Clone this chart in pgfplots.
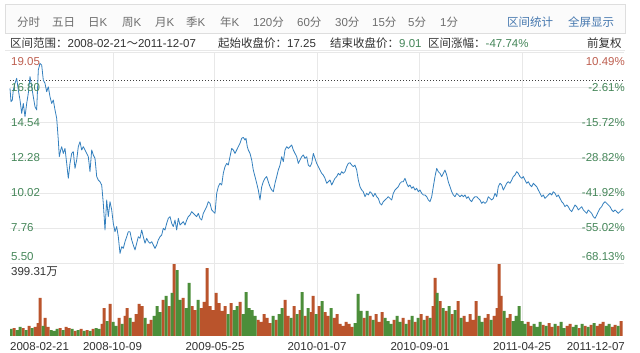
\documentclass[border=0pt]{standalone}
\usepackage{fontspec}
\setmainfont{Liberation Sans}
\newfontfamily\cjk{Noto Sans CJK SC}
\usepackage{pgfplots}
\pgfplotsset{compat=1.18}
\definecolor{pline}{RGB}{52,128,190}
\definecolor{upred}{RGB}{186,84,44}
\definecolor{dngreen}{RGB}{76,142,58}
\definecolor{lblred}{RGB}{190,95,80}
\definecolor{lblgreen}{RGB}{70,135,90}
\definecolor{gridc}{RGB}{232,232,232}
\definecolor{tabtxt}{RGB}{110,110,110}
\definecolor{linkblue}{RGB}{70,120,175}
\definecolor{txt}{RGB}{50,50,50}
\newcommand{\C}[1]{{\cjk #1}}
\newcommand{\fs}{\fontsize{11.5}{13}\selectfont}
\begin{document}
\begin{tikzpicture}[x=1pt,y=1pt]
\path[fill=white] (0,0) rectangle (640,353);
% toolbar
\draw[draw={rgb,255:red,222;green,222;blue,222}, fill={rgb,255:red,251;green,251;blue,251}] (5,320) rectangle (625,349);
\begin{scope}[every node/.style={anchor=base west, inner sep=0pt, text=tabtxt, font=\fs}]
\node at (17,326.5) {\C{分时}};
\node at (52,326.5) {\C{五日}};
\node at (88,326.5) {\C{日}K};
\node at (122,326.5) {\C{周}K};
\node at (155,326.5) {\C{月}K};
\node at (186,326.5) {\C{季}K};
\node at (220,326.5) {\C{年}K};
\node at (253,326.5) {120\C{分}};
\node at (297,326.5) {60\C{分}};
\node at (335,326.5) {30\C{分}};
\node at (372,326.5) {15\C{分}};
\node at (408,326.5) {5\C{分}};
\node at (440,326.5) {1\C{分}};
\node[text=linkblue] at (507,326.5) {\C{区间统计}};
\node[text=linkblue] at (568,326.5) {\C{全屏显示}};
\end{scope}
\begin{scope}[every node/.style={anchor=base west, inner sep=0pt, text=txt, font=\fs}]
\node at (10,305.5) {\C{区间范围：}2008-02-21\C{～}2011-12-07};
\node at (218,305.5) {\C{起始收盘价：}17.25};
\node at (330,305.5) {\C{结束收盘价：}\textcolor{lblgreen}{9.01}};
\node at (428,305.5) {\C{区间涨幅：}\textcolor{lblgreen}{-47.74\%}};
\node at (587,305.5) {\C{前复权}};
\end{scope}
\draw[gridc, line width=0.6pt] (5,303) -- (625,303);
% price panel
\begin{axis}[at={(10pt,89.5pt)}, anchor=south west, scale only axis,
  width=614pt, height=211pt, xmin=10, xmax=624, ymin=5.50, ymax=19.05,
  axis line style={draw=none}, major tick length=0pt,
  xtick={113,214,317,419,522}, ytick={5.50,7.76,10.02,12.28,14.54,16.80,19.05},
  xticklabels={}, yticklabels={}, grid=major,
  major grid style={gridc, line width=0.6pt}, clip=false]
\addplot[black!75, line width=0.8pt, dash pattern=on 0.9pt off 2.1pt] coordinates {(10,17.25) (624,17.25)};
\addplot[pline, line width=0.8pt, line join=round] coordinates {
(10,16.75) (11,15.89) (12.3,15.99) (13.3,16.64) (15,17.07) (16.7,17.39) (18.3,16.64) (20,16.00)
(21.7,15.14) (23.3,15.78) (25,14.93) (26.7,15.78) (28.3,16.43) (30,17.50) (31.7,16.85) (33.3,16.21)
(35,15.57) (36.7,15.36) (38.3,17.92) (40,18.35) (41.7,18.24) (43.3,17.28) (45,17.07) (46.7,16.53)
(48.3,16.85) (50,16.21) (51.7,15.78) (53.3,16.00) (55,15.36) (56.7,14.82) (58.3,13.43) (59.3,12.36)
(60.7,12.79) (61.7,13.00) (63.3,12.57) (65,12.89) (66.7,11.93) (68.3,10.97) (70,11.93) (71.7,12.57)
(73.3,12.68) (75,11.61) (76.7,12.15) (78.3,13.00) (80,13.32) (81.7,12.79) (83.3,13.00) (85,12.79)
(86.7,12.57) (88.3,12.36) (90,11.40) (91.7,12.79) (93.3,12.47) (95,12.25) (96.7,11.08) (98.3,10.86)
(100,10.75) (101.7,10.54) (103.3,9.36) (105,7.65) (106.7,9.58) (108.3,8.51) (110,9.47) (111.7,8.94)
(113.3,8.08) (115,7.54) (116.7,7.87) (118.3,7.22) (120,6.15) (121.7,6.58) (123.3,6.47) (125,6.90)
(126.7,7.22) (128.3,7.54) (130,7.54) (131.7,7.01) (133.3,6.69) (135,6.37) (136.7,6.80) (138.3,7.22)
(140,7.12) (141.7,7.65) (143.3,7.22) (145,6.80) (146.7,7.12) (148.3,6.90) (150,6.80) (151.7,6.90)
(153.3,6.69) (155,6.47) (156.7,6.69) (158.3,7.01) (160,7.22) (161.7,7.33) (163.3,7.76) (165,7.65)
(166.7,8.08) (168.3,8.40) (170,8.51) (171.7,8.08) (173.3,7.87) (175,8.29) (176.7,7.65) (178.3,8.40)
(180,7.97) (181.7,8.08) (183.3,8.19) (185,7.97) (186.7,8.29) (188.3,8.51) (190,8.61) (191.7,8.83)
(193.3,8.72) (195,8.61) (196.7,8.51) (198.3,8.72) (200,8.40) (201.7,8.29) (203.3,8.72) (205,8.94)
(206.7,9.15) (208.3,9.47) (210,9.36) (211.7,8.94) (213.3,8.83) (215,8.72) (216.7,10.01) (218.3,10.43)
(220,10.65) (221.7,10.54) (223.3,11.29) (225,11.72) (226.7,11.93) (228.3,11.82) (230,12.36) (231.7,12.89)
(233.3,12.79) (235,12.57) (236.7,12.79) (238.3,13.00) (240,13.22) (241.7,13.54) (243.3,13.60) (245,13.43)
(246,13.54) (247.3,13.00) (248.3,12.79) (250,12.57) (251.7,12.15) (253.3,11.50) (255,11.08) (256.7,10.65)
(258.3,10.22) (260,9.58) (261.7,10.43) (263.3,10.75) (265,10.97) (266.7,11.08) (268.3,10.75) (270,10.43)
(271.7,10.22) (273.3,10.11) (275,10.65) (276.7,11.08) (278.3,11.50) (280,11.82) (281.7,12.36) (283.3,12.04)
(285,12.79) (286.7,13.00) (288.3,12.89) (290,13.00) (291.7,13.11) (293.3,12.79) (295,12.57) (296.7,12.36)
(298.3,11.93) (300,12.15) (301.7,12.36) (303.3,12.47) (305,12.25) (306.7,12.36) (308.3,11.82) (310,11.72)
(311.7,11.93) (313.3,12.57) (315,12.25) (316.7,11.93) (318.3,11.72) (320,11.50) (321.7,11.29) (323.3,11.18)
(325,10.97) (326.7,10.65) (328.3,10.75) (330,10.86) (331.7,10.54) (333.3,10.75) (335,10.97) (336.7,11.08)
(338.3,11.29) (340,11.18) (341.7,11.40) (343.3,11.29) (345,11.40) (346.7,11.72) (348.3,11.93) (350,11.97)
(351.7,11.82) (353.3,11.72) (355,11.82) (356.7,11.50) (358.3,10.86) (360,10.43) (361.7,10.22) (363.3,10.11)
(365,9.79) (366.7,10.01) (368.3,9.90) (370,10.11) (371.7,10.01) (373.3,9.79) (375,10.01) (376.7,9.79)
(378.3,9.68) (380,9.36) (381.7,9.26) (383.3,9.47) (385,9.58) (386.7,9.68) (388.3,9.79) (390,9.68)
(391.7,9.58) (393.3,10.01) (395,10.22) (396.7,10.33) (398.3,10.43) (400,10.65) (401.7,10.75) (403.3,10.75)
(405,10.97) (406.7,10.65) (408.3,10.43) (410,10.54) (411.7,10.33) (413.3,10.43) (415,10.22) (416.7,10.33)
(418.3,10.11) (420,10.22) (421.7,10.01) (423.3,9.90) (425,9.90) (426.7,9.79) (428.3,9.58) (430,9.47)
(431.7,9.79) (433.3,10.43) (435,11.08) (436.7,11.61) (438.3,11.40) (440,11.29) (441.7,11.08) (443.3,11.29)
(445,11.50) (446.7,11.18) (448.3,10.75) (450,10.43) (451.7,10.11) (453.3,9.90) (455,9.79) (456.7,10.01)
(458.3,9.90) (460,9.79) (461.7,9.90) (463.3,9.79) (465,9.90) (466.7,9.68) (468.3,9.79) (470,9.58)
(471.7,9.47) (473.3,9.68) (475,9.79) (476.7,9.79) (478.3,9.68) (480,9.58) (481.7,9.36) (483.3,9.47)
(485,9.36) (486.7,9.47) (488.3,9.79) (490,9.68) (491.7,9.58) (493.3,9.68) (495,10.01) (496.7,9.79)
(498.3,10.43) (500,10.65) (501.7,10.54) (503.3,10.22) (505,10.43) (506.7,10.65) (508.3,10.75) (510,10.65)
(511.7,10.86) (513.3,11.08) (515,11.18) (516.7,11.40) (518.3,11.29) (520,11.08) (521.7,10.97) (523.3,11.08)
(525,10.86) (526.7,10.65) (528.3,10.75) (530,10.54) (531.7,10.43) (533.3,10.65) (535,10.54) (536.7,10.43)
(538.3,10.22) (540,10.01) (541.7,9.79) (543.3,9.90) (545,9.68) (546.7,9.79) (548.3,9.90) (550,10.01)
(551.7,9.90) (553.3,10.11) (555,10.01) (556.7,9.79) (558.3,9.90) (560,9.68) (561.7,9.47) (563.3,9.36)
(565,9.15) (566.7,9.26) (568.3,9.15) (570,8.94) (571.7,8.83) (573.3,9.04) (575,9.26) (576.7,9.15)
(578.3,8.94) (580,9.04) (581.7,9.15) (583.3,8.94) (585,8.83) (586.7,8.72) (588.3,8.94) (590,8.83)
(591.7,8.72) (593.3,8.51) (595,8.40) (596.7,8.61) (598.3,8.83) (600,9.04) (601.7,9.15) (603.3,9.36)
(605,9.47) (606.7,9.36) (608.3,9.26) (610,9.15) (611.7,8.94) (613.3,8.83) (615,8.94) (616.7,8.83)
(618.3,8.72) (620,8.83) (621.7,8.94) (623.3,9.01)
};
\end{axis}
% volume panel
\begin{axis}[at={(10pt,17pt)}, anchor=south west, scale only axis,
  width=614pt, height=72pt, xmin=10, xmax=624, ymin=0, ymax=399.31,
  axis line style={draw=none}, major tick length=0pt,
  xtick={113,214,317,419,522}, ytick=\empty, xticklabels={}, xmajorgrids,
  major grid style={gridc, line width=0.6pt}]
\addplot[ybar, bar width=3.0, bar shift=0pt, fill=upred, draw=none] coordinates {
(14,44) (23,44) (29,56) (35,50) (38,72) (40,211) (45,100) (48,50) (60,44) (66,50) (69,44) (75,28)
(81,39) (87,33) (93,39) (102,67) (104,155) (110,178) (119,100) (125,111) (127,155) (133,78) (136,122)
(139,178) (142,166) (148,67) (151,89) (163,200) (169,166) (174,399) (183,211) (192,166) (195,144)
(201,155) (204,189) (207,377) (210,166) (213,144) (216,239) (219,183) (222,139) (225,166) (231,183)
(240,189) (258,89) (261,78) (264,122) (267,100) (270,72) (276,89) (285,200) (288,111) (294,166)
(300,144) (305,111) (311,133) (313,222) (319,166) (325,133) (328,111) (334,100) (337,122) (340,67)
(343,56) (346,78) (349,67) (352,50) (364,100) (370,111) (376,122) (379,78) (382,133) (394,89) (403,100)
(409,89) (415,78) (421,122) (427,111) (433,166) (435,322) (440,194) (446,139) (452,122) (458,194)
(464,111) (467,78) (470,122) (473,89) (476,194) (485,100) (488,122) (494,111) (497,155) (499,399)
(501,222) (507,100) (510,122) (528,78) (531,56) (543,61) (549,72) (552,50) (558,56) (567,56) (570,67)
(579,44) (585,56) (591,61) (597,56) (600,67) (603,78) (612,50) (615,61) (621,83)
};
\addplot[ybar, bar width=3.0, bar shift=0pt, fill=dngreen, draw=none] coordinates {
(11,39) (17,33) (20,50) (26,33) (32,44) (43,56) (51,33) (54,28) (57,39) (63,33) (72,39) (78,33)
(84,28) (90,28) (96,44) (99,39) (107,83) (113,78) (116,56) (122,67) (130,100) (145,100) (154,111)
(157,166) (160,133) (166,222) (172,239) (177,366) (180,200) (186,155) (189,294) (198,200) (228,122)
(234,144) (237,166) (243,122) (246,244) (249,155) (252,144) (255,111) (273,111) (279,122) (282,155)
(291,100) (297,122) (302,244) (308,155) (316,122) (322,194) (331,155) (355,72) (358,233) (361,139)
(367,139) (373,89) (385,100) (388,83) (391,67) (397,111) (400,78) (406,67) (412,111) (418,100)
(424,89) (430,100) (437,239) (443,155) (449,166) (455,144) (461,100) (479,111) (482,78) (491,89)
(504,139) (513,83) (516,111) (519,166) (522,83) (525,67) (534,67) (537,50) (540,78) (546,56)
(555,67) (561,78) (564,44) (573,50) (576,61) (582,67) (588,50) (594,72) (606,56) (609,67) (618,56)
};
\end{axis}
% axis labels
\begin{scope}[every node/.style={anchor=base west, inner sep=0pt, font=\fs}]
\node[text=lblred] at (11,287) {19.05};
\node[text=lblgreen] at (11,261) {16.80};
\node[text=lblgreen] at (11,226.3) {14.54};
\node[text=lblgreen] at (11,191) {12.28};
\node[text=lblgreen] at (11,156) {10.02};
\node[text=lblgreen] at (11,121) {7.76};
\node[text=lblgreen] at (11,92) {5.50};
\node[text=txt] at (11,77) {399.31\C{万}};
\end{scope}
\begin{scope}[every node/.style={anchor=base east, inner sep=0pt, font=\fs}]
\node[text=lblred] at (625,287) {10.49\%};
\node[text=lblgreen] at (625,261) {-2.61\%};
\node[text=lblgreen] at (625,226.3) {-15.72\%};
\node[text=lblgreen] at (625,191) {-28.82\%};
\node[text=lblgreen] at (625,156) {-41.92\%};
\node[text=lblgreen] at (625,121) {-55.02\%};
\node[text=lblgreen] at (625,92) {-68.13\%};
\end{scope}
\begin{scope}[every node/.style={anchor=base, inner sep=0pt, text=txt, font=\fs}]
\node[anchor=base west] at (10,2.5) {2008-02-21};
\node at (112.5,2.5) {2008-10-09};
\node at (215,2.5) {2009-05-25};
\node at (317,2.5) {2010-01-07};
\node at (420,2.5) {2010-09-01};
\node at (522,2.5) {2011-04-25};
\node[anchor=base east] at (625,2.5) {2011-12-07};
\end{scope}
\useasboundingbox (0,0) rectangle (640,353);
\end{tikzpicture}
\end{document}
